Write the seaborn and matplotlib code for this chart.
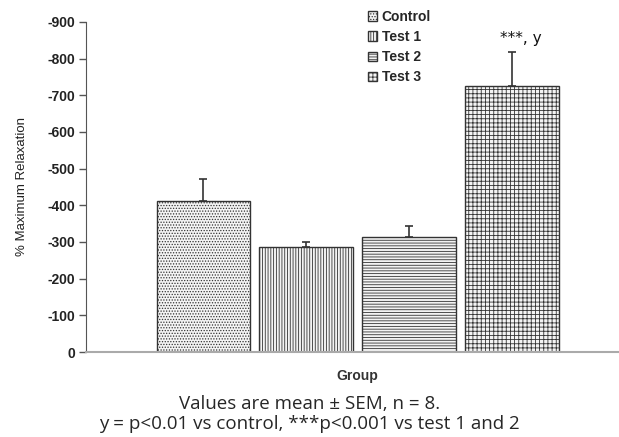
import matplotlib
matplotlib.use("Agg")
import numpy as np
import pandas as pd
import seaborn as sns
import matplotlib.pyplot as plt
from matplotlib.patches import Patch

groups = ["Control", "Test 1", "Test 2", "Test 3"]
relaxation = [-412, -287, -313, -725]
sem = [60, 12, 31, 94]
y_ticks = [0, -100, -200, -300, -400, -500, -600, -700, -800, -900]

hatches = ["......", "||||||", "------", "++++"]

df = pd.DataFrame({"Group": groups, "Relaxation": relaxation})

sns.set_style("white")
plt.rcParams["font.family"] = ["Liberation Sans", "DejaVu Sans"]
plt.rcParams["hatch.linewidth"] = 0.6

fig = plt.figure(figsize=(6.19, 4.37), dpi=100)
ax = fig.add_axes([0.139, 0.1945, 0.861, 0.7552])

sns.barplot(data=df, x="Group", y="Relaxation", color="white", width=0.91,
            edgecolor="#333333", linewidth=1.0, errorbar=None, ax=ax)

for patch, h in zip(ax.patches, hatches):
    patch.set_hatch(h)
    patch.set_facecolor("#f4f4f4")

# upward-only error bars (axis is inverted)
ax.errorbar(np.arange(len(groups)), relaxation, yerr=[sem, [0] * len(sem)],
            fmt="none", ecolor="#333333", elinewidth=1.2, capsize=3, capthick=1.2)

ax.set_xlim(-1.14, 4.04)
ax.set_ylim(0, -900)
ax.set_yticks(y_ticks)
ax.set_yticklabels([str(t) for t in y_ticks], fontsize=10, fontweight="bold", color="#222222")
ax.set_xticks([])
ax.tick_params(axis="y", direction="out", length=5, width=1, color="#555555", left=True, pad=3)
for s in ["top", "right"]:
    ax.spines[s].set_visible(False)
ax.spines["left"].set_color("#555555")
ax.spines["bottom"].set_color("#aaaaaa")
ax.spines["bottom"].set_linewidth(1.5)

ax.set_ylabel("% Maximum Relaxation", fontsize=9.5, color="#222222", labelpad=14)
ax.set_xlabel("")
fig.text(0.577, 0.139, "Group", fontsize=10, fontweight="bold", color="#333333",
         ha="center", va="center")

ax.text(3.09, -835, "***, y", fontsize=11, ha="center", va="bottom", color="#111111",
        family=["DejaVu Sans"])

handles = [Patch(facecolor="#f4f4f4", edgecolor="#333333", hatch=h, label=g)
           for g, h in zip(groups, hatches)]
leg = ax.legend(handles=handles, loc="upper left", bbox_to_anchor=(0.505, 1.075),
                frameon=False, handlelength=0.7, handleheight=0.7, handletextpad=0.3,
                labelspacing=0.45, prop={"size": 10, "weight": "bold"})

fig.text(0.5, 0.076, "Values are mean \u00b1 SEM, n = 8.", fontsize=13.5,
         ha="center", va="center", family=["Open Sans", "DejaVu Sans"])
fig.text(0.5, 0.029, "y = p<0.01 vs control, ***p<0.001 vs test 1 and 2", fontsize=13.5,
         ha="center", va="center", family=["Open Sans", "DejaVu Sans"])

fig.savefig("out.png", dpi=100)
